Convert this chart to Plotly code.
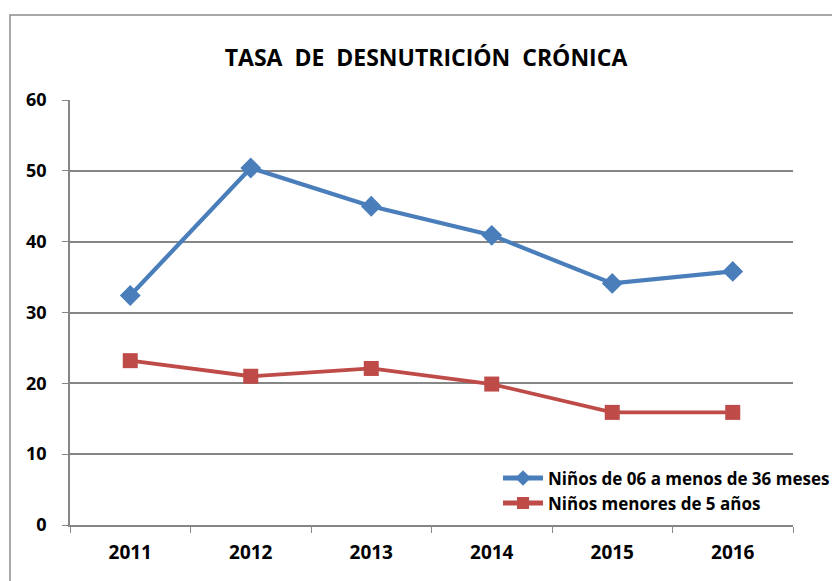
import plotly.graph_objects as go

years = ["2011", "2012", "2013", "2014", "2015", "2016"]
ninos_36m = [32.4, 50.4, 45.0, 40.9, 34.1, 35.8]
ninos_5a = [23.2, 21.0, 22.1, 19.9, 15.9, 15.9]
y_ticks = [0, 10, 20, 30, 40, 50, 60]

FONT = "Open Sans"

fig = go.Figure()
fig.add_trace(go.Scatter(
    x=years, y=ninos_36m, mode="lines+markers",
    name="Niños de 06 a menos de 36 meses",
    line=dict(color="#4A7EBB", width=4.2),
    marker=dict(symbol="diamond", size=16, color="#4A7EBB"),
))
fig.add_trace(go.Scatter(
    x=years, y=ninos_5a, mode="lines+markers",
    name="Niños menores de 5 años",
    line=dict(color="#BE4B48", width=3.8),
    marker=dict(symbol="square", size=15, color="#BE4B48"),
))

fig.update_layout(
    width=840, height=581,
    margin=dict(l=62, r=55, t=92, b=64),
    paper_bgcolor="white", plot_bgcolor="white",
    font=dict(family=FONT, size=16, color="black"),
    title=dict(text="<b>TASA  DE  DESNUTRICIÓN  CRÓNICA</b>",
               x=418/840, xanchor="center", y=1-50/581, yanchor="middle",
               font=dict(family=FONT, size=23, color="black")),
    showlegend=True,
    legend=dict(x=0.592, y=0.152, xanchor="left", yanchor="top",
                bgcolor="rgba(0,0,0,0)", tracegroupgap=0,
                itemsizing="constant",
                font=dict(family=FONT, size=17, color="black", weight="bold"),
                itemwidth=40),
    xaxis=dict(type="category", range=[-0.5, 5.5], showgrid=False,
               showline=True, linecolor="#868686", linewidth=1.5,
               ticks="outside", ticklen=6, tickcolor="#868686",
               tickson="boundaries", ticklabelstandoff=9,
               tickfont=dict(family=FONT, size=19, weight="bold"),
               fixedrange=True),
    yaxis=dict(range=[0, 60], tickvals=y_ticks, showgrid=True,
               gridcolor="#868686", gridwidth=1.5,
               showline=True, linecolor="#868686", linewidth=1.5,
               ticks="outside", ticklen=6, tickcolor="#868686",
               ticklabelstandoff=12,
               tickfont=dict(family=FONT, size=18, weight="bold"),
               zeroline=False, fixedrange=True),
    shapes=[dict(type="rect", xref="paper", yref="paper",
                 x0=(10-70)/723, x1=1.2, y0=-0.3, y1=1+(100-15)/425,
                 line=dict(color="#8c8c8c", width=1.5), fillcolor="rgba(0,0,0,0)",
                 layer="below")],
)

fig.write_html("out.html")
